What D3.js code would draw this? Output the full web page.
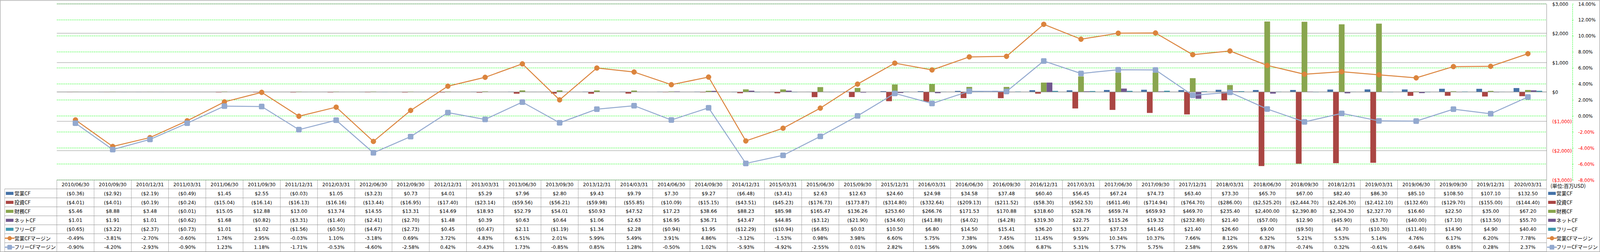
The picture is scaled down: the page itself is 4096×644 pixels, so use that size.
<!DOCTYPE html>
<html>
<head>
<meta charset="utf-8">
<script src="https://cdn.jsdelivr.net/npm/d3@7"></script>
<style>
  html, body { margin: 0; padding: 0; background: #ffffff; }
  svg { display: block; }
</style>
</head>
<body>
<script>
// ---------------- DATA ----------------
const dates = ["2010/06/30","2010/09/30","2010/12/31","2011/03/31","2011/06/30","2011/09/30","2011/12/31","2012/03/31","2012/06/30","2012/09/30",
  "2012/12/31","2013/03/31","2013/06/30","2013/09/30","2013/12/31","2014/03/31","2014/06/30","2014/09/30","2014/12/31","2015/03/31",
  "2015/06/30","2015/09/30","2015/12/31","2016/03/31","2016/06/30","2016/09/30","2016/12/31","2017/03/31","2017/06/30","2017/09/30",
  "2017/12/31","2018/03/31","2018/06/30","2018/09/30","2018/12/31","2019/03/31","2019/06/30","2019/09/30","2019/12/31","2020/03/31"];

const barNames = ["営業CF","投資CF","財務CF","ネットCF","フリーCF"];
const lineNames = ["営業CFマージン","フリーCFマージン"];

const opCF = [-0.36,-2.92,-2.19,-0.49,1.45,2.55,-0.03,1.05,-3.23,0.73,
  4.01,5.29,7.96,2.80,9.43,9.79,7.30,9.27,-6.48,-3.41,
  2.63,12.63,24.60,24.98,34.58,37.48,60.40,56.45,67.24,74.73,
  63.40,73.30,65.70,67.00,82.40,86.30,85.10,108.50,107.10,132.50];
const invCF = [-4.01,-4.01,-0.19,-0.24,-15.04,-16.14,-16.13,-16.16,-13.44,-16.95,
  -17.40,-23.14,-59.56,-56.21,-59.98,-55.85,-10.09,-15.15,-43.51,-45.23,
  -176.73,-173.87,-314.80,-332.64,-209.13,-211.52,-58.30,-562.53,-611.46,-714.94,
  -764.70,-286.00,-2525.20,-2444.70,-2426.30,-2412.10,-132.60,-129.70,-155.00,-144.40];
const finCF = [5.46,8.88,3.48,-0.01,15.05,12.88,13.00,13.74,14.55,13.31,
  14.69,18.93,52.79,54.01,50.93,47.52,17.23,38.66,88.23,85.98,
  165.47,136.26,253.60,266.76,171.53,170.88,318.60,528.76,659.74,659.93,
  469.70,235.40,2400.00,2390.80,2304.30,2327.70,16.60,22.50,35.00,67.20];
const netCF = [1.01,1.91,1.01,-0.62,1.68,-0.82,-3.31,-1.40,-2.41,-2.70,
  1.48,0.39,0.63,0.64,1.06,2.63,16.95,36.71,43.47,44.85,
  -3.12,-21.90,-34.60,-41.88,-4.02,-4.28,319.30,22.75,115.26,19.32,
  -232.80,21.40,-57.00,12.90,-45.90,-3.70,-40.00,-7.10,-13.50,55.70];
const freeCF = [-0.65,-3.22,-2.37,-0.73,1.01,1.02,-1.56,-0.50,-4.67,-2.73,
  0.45,-0.47,2.11,-1.19,1.34,2.28,-0.94,1.95,-12.29,-10.94,
  -6.85,0.03,10.50,6.80,14.50,15.41,36.20,31.27,37.53,41.45,
  21.40,26.60,9.00,-9.50,4.70,-10.30,-11.40,14.90,4.90,40.40];
const opMargin = [-0.49,-3.81,-2.70,-0.60,1.76,2.95,-0.03,1.10,-3.18,0.69,
  3.72,4.83,6.51,2.01,5.99,5.49,3.91,4.86,-3.12,-1.53,
  0.98,3.98,6.60,5.75,7.38,7.45,11.45,9.59,10.34,10.37,
  7.66,8.12,6.32,5.21,5.53,5.14,4.76,6.17,6.20,7.78];
const freeMargin = [-0.90,-4.20,-2.93,-0.90,1.23,1.18,-1.71,-0.53,-4.60,-2.58,
  0.42,-0.43,1.73,-0.85,0.85,1.28,-0.50,1.02,-5.93,-4.92,
  -2.55,0.01,2.82,1.56,3.09,3.06,6.87,5.31,5.77,5.75,
  2.58,2.95,0.87,-0.74,0.32,-0.61,-0.64,0.85,0.28,2.37];

const dollarTicks = [-3000,-2000,-1000,0,1000,2000,3000];
const pctTicks = [-8,-6,-4,-2,0,2,4,6,8,10,12,14];
const unitLabel = "(単位:百万USD)";

// ---------------- STYLE ----------------
const barColors = ["#4572A7","#AA4643","#89A54E","#71588F","#4198AF"];
const lineColors = ["#DB843D","#93A9CF"];
const gridGray = "#8a8a8a";
const gridGreen = "#00ff00";
const numFont = "'DejaVu Sans', 'Noto Sans CJK JP', sans-serif";
const jpFont = "'Noto Sans CJK JP', 'DejaVu Sans', sans-serif";

const loc = d3.formatLocale({decimal: ".", thousands: ",", grouping: [3], currency: ["$", ""], minus: "-"});

// full-size reference coordinates, drawn through the viewBox at 0.75
const W = 5461, H = 858;
const plot = {left: 194, right: 5278.5, top: 13, bottom: 613};
const tableBottom = 857.3;
const headerBottom = 643.3;

const svg = d3.select("body").append("svg")
  .attr("width", 4096).attr("height", 644)
  .attr("viewBox", `0 0 ${W} ${H}`);

const barSeries = [opCF, invCF, finCF, netCF, freeCF];
const lineSeries = [opMargin, freeMargin];

const x = d3.scaleBand().domain(dates).range([plot.left, plot.right]).paddingInner(0).paddingOuter(0);
const xs = d3.scaleBand().domain(barNames).range([0, x.bandwidth()]).paddingInner(0).paddingOuter(0.75);
const yL = d3.scaleLinear().domain([-3000, 3000]).range([plot.bottom, plot.top]);
const yR = d3.scaleLinear().domain([-8, 14]).range([plot.bottom, plot.top]);

// chart border
svg.append("rect").attr("x", 0.65).attr("y", 1.3).attr("width", W - 1.6).attr("height", 856)
  .attr("fill", "#fff").attr("stroke", "#868686").attr("stroke-width", 1.3);

// green dashed secondary gridlines
svg.append("g").selectAll("line").data(pctTicks).join("line")
  .attr("x1", plot.left).attr("x2", plot.right)
  .attr("y1", d => yR(d)).attr("y2", d => yR(d))
  .attr("stroke", gridGreen).attr("stroke-width", 1.3).attr("stroke-dasharray", "4,2.3");

// gray primary gridlines
svg.append("g").selectAll("line").data(dollarTicks).join("line")
  .attr("x1", plot.left).attr("x2", plot.right)
  .attr("y1", d => yL(d)).attr("y2", d => yL(d))
  .attr("stroke", gridGray).attr("stroke-width", 1.3);

// bars
const barG = svg.append("g");
barSeries.forEach((vals, si) => {
  barG.append("g").selectAll("rect").data(vals).join("rect")
    .attr("x", (d, i) => x(dates[i]) + xs(barNames[si]))
    .attr("width", xs.bandwidth())
    .attr("y", d => Math.min(yL(d), yL(0)))
    .attr("height", d => Math.abs(yL(d) - yL(0)))
    .attr("fill", barColors[si]);
});

// zero line over bar bases
svg.append("line").attr("x1", plot.left).attr("x2", plot.right)
  .attr("y1", yL(0)).attr("y2", yL(0)).attr("stroke", gridGray).attr("stroke-width", 1.3);

// lines + markers
const cx = i => x(dates[i]) + x.bandwidth() / 2;
lineSeries.forEach((vals, li) => {
  const g = svg.append("g");
  const line = d3.line().x((d, i) => cx(i)).y(d => yR(d));
  g.append("path").datum(vals).attr("d", line)
    .attr("fill", "none").attr("stroke", lineColors[li]).attr("stroke-width", 3.3)
    .attr("stroke-linejoin", "round").attr("stroke-linecap", "round");
  if (li === 0) {
    g.selectAll("circle").data(vals).join("circle")
      .attr("cx", (d, i) => cx(i)).attr("cy", d => yR(d)).attr("r", 8.6)
      .attr("fill", lineColors[0]).attr("stroke", "#D98236").attr("stroke-width", 1);
  } else {
    g.selectAll("rect").data(vals).join("rect")
      .attr("x", (d, i) => cx(i) - 8.8).attr("y", d => yR(d) - 8.8)
      .attr("width", 17.6).attr("height", 17.6).attr("rx", 2.5)
      .attr("fill", lineColors[1]).attr("stroke", "#8CA3CC").attr("stroke-width", 1.3);
  }
});

// axes
const fmtInt = loc.format(",");
const dollarAxisFmt = v => v < 0 ? `($${fmtInt(-v)})` : `$${fmtInt(v)}`;
const pctFmt = v => loc.format(".2f")(v) + "%";

const axL = svg.append("g").attr("transform", `translate(${plot.right},0)`)
  .call(d3.axisRight(yL).tickValues(dollarTicks).tickFormat(dollarAxisFmt).tickSize(0).tickPadding(19.5));
axL.select(".domain").attr("stroke", gridGray).attr("stroke-width", 1.3);
axL.selectAll("text").attr("font-family", numFont).attr("font-size", 15.6)
  .attr("fill", d => d < 0 ? "#ff0000" : "#000");

const axR = svg.append("g").attr("transform", `translate(5367,0)`)
  .call(d3.axisRight(yR).tickValues(pctTicks).tickFormat(pctFmt).tickSize(3.3).tickSizeOuter(0).tickPadding(16.5));
axR.select(".domain").attr("stroke", gridGreen).attr("stroke-width", 1.3).attr("stroke-dasharray", "4,2.3");
axR.selectAll(".tick line").attr("stroke", gridGreen).attr("stroke-width", 1.3);
axR.selectAll("text").attr("font-family", numFont).attr("font-size", 15.6)
  .attr("fill", d => d < 0 ? "#ff0000" : "#000");
svg.selectAll(".tick text").attr("dy", "0.36em");

// ---------------- DATA TABLE ----------------
const rows = d3.scaleBand().domain(d3.range(7)).range([headerBottom, tableBottom]);
const tableG = svg.append("g");
const tableLine = "#8f8f8f";

tableG.selectAll("line.h").data(d3.range(8)).join("line").attr("class", "h")
  .attr("x1", 16).attr("x2", plot.right)
  .attr("y1", i => i < 7 ? rows(i) : tableBottom).attr("y2", i => i < 7 ? rows(i) : tableBottom)
  .attr("stroke", tableLine).attr("stroke-width", 1.3);
const colEdges = dates.map(d => x(d)).concat([plot.right]);
tableG.selectAll("line.v").data(colEdges).join("line").attr("class", "v")
  .attr("x1", d => d).attr("x2", d => d)
  .attr("y1", plot.bottom).attr("y2", tableBottom)
  .attr("stroke", tableLine).attr("stroke-width", 1.1);
tableG.append("line").attr("x1", 16).attr("x2", 16).attr("y1", headerBottom).attr("y2", tableBottom)
  .attr("stroke", tableLine).attr("stroke-width", 1.1);

tableG.selectAll("text.hd").data(dates).join("text").attr("class", "hd")
  .attr("x", d => x(d) + x.bandwidth() / 2).attr("y", (plot.bottom + headerBottom) / 2)
  .attr("dy", "0.36em").attr("text-anchor", "middle")
  .attr("font-family", numFont).attr("font-size", 16.4).attr("fill", "#000").text(d => d);

const money = v => v < 0 ? `($${loc.format(",.2f")(-v)})` : `$${loc.format(",.2f")(v)}`;
const tableSeries = barSeries.map(s => s.map(money)).concat(lineSeries.map(s => s.map(pctFmt)));
tableSeries.forEach((vals, ri) => {
  tableG.append("g").selectAll("text").data(vals).join("text")
    .attr("x", (d, i) => cx(i)).attr("y", rows(ri) + rows.bandwidth() / 2)
    .attr("dy", "0.36em").attr("text-anchor", "middle")
    .attr("font-family", numFont).attr("font-size", 16.4).attr("fill", "#000").text(d => d);
});

// ---------------- LEGENDS (table keys) ----------------
const allNames = barNames.concat(lineNames);
function drawKey(g, ri, iconX, textX) {
  const cy = rows(ri) + rows.bandwidth() / 2;
  if (ri < 5) {
    g.append("rect").attr("x", iconX).attr("y", cy - 5.2).attr("width", 26).attr("height", 10.4)
      .attr("fill", barColors[ri]);
  } else {
    const li = ri - 5;
    g.append("line").attr("x1", iconX - 2).attr("x2", iconX + 28).attr("y1", cy).attr("y2", cy)
      .attr("stroke", lineColors[li]).attr("stroke-width", 4).attr("stroke-linecap", "round");
    if (li === 0) {
      g.append("circle").attr("cx", iconX + 13).attr("cy", cy).attr("r", 7.3).attr("fill", lineColors[0]);
    } else {
      g.append("rect").attr("x", iconX + 5).attr("y", cy - 8).attr("width", 16).attr("height", 16)
        .attr("rx", 2.5).attr("fill", lineColors[1]);
    }
  }
  g.append("text").attr("x", textX).attr("y", cy).attr("dy", "0.36em")
    .attr("font-family", jpFont).attr("font-size", 17.3).attr("fill", "#000").text(allNames[ri]);
}
const legL = svg.append("g");
const legR = svg.append("g");
d3.range(7).forEach(ri => {
  drawKey(legL, ri, 20, 49);
  drawKey(legR, ri, 5284, 5312);
});
legR.append("text").attr("x", 5292).attr("y", 634).attr("dy", "0.36em")
  .attr("font-family", jpFont).attr("font-size", 17.3).attr("fill", "#000").text(unitLabel);
</script>
</body>
</html>
